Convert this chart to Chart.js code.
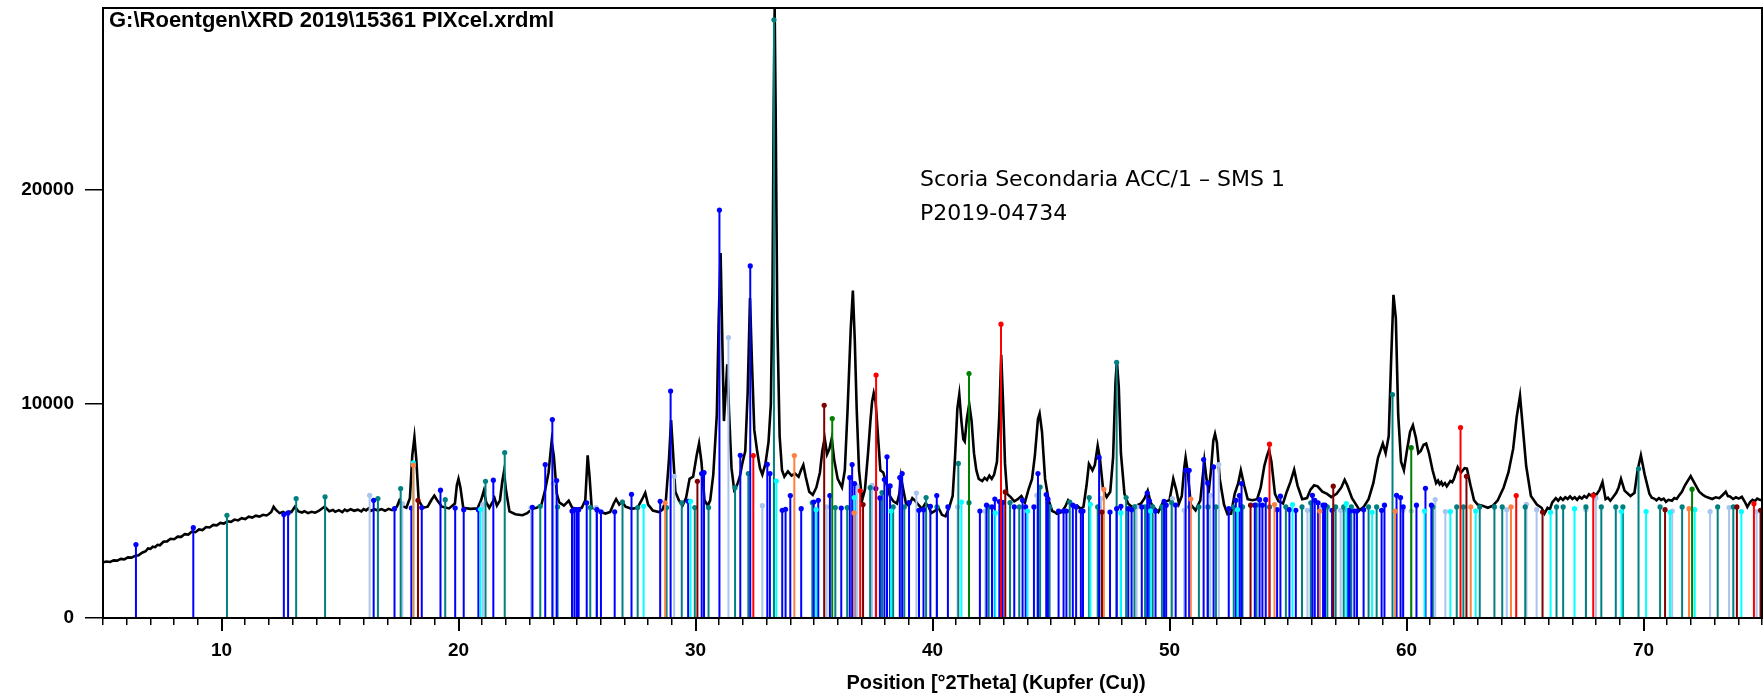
<!DOCTYPE html>
<html>
<head>
<meta charset="utf-8">
<title>XRD 15361</title>
<script src="https://cdn.jsdelivr.net/npm/chart.js@4.4.1/dist/chart.umd.min.js"></script>
<style>
  html, body { margin: 0; padding: 0; background: #fff; }
  #wrap { position: relative; width: 1764px; height: 699px; overflow: hidden; }
  #scanName { position: absolute; left: 109px; top: 7px; line-height: 24px; font: bold 22px "Liberation Sans", Arial, sans-serif; color: #000; white-space: nowrap; }
  .note { position: absolute; left: 920px; line-height: 24px; font: 22px "DejaVu Sans", Verdana, sans-serif; color: #000; white-space: nowrap; }
  #xTitle { position: absolute; left: 996px; top: 671px; transform: translateX(-50%); line-height: 24px; font: bold 20px "Liberation Sans", Arial, sans-serif; color: #000; white-space: nowrap; }
</style>
</head>
<body>
<div id="wrap">
  <canvas id="xrd" width="1764" height="699"></canvas>
  <div id="scanName">G:\Roentgen\XRD 2019\15361 PIXcel.xrdml</div>
  <div class="note" style="top:166px">Scoria Secondaria ACC/1 – SMS 1</div>
  <div class="note" style="top:200px">P2019-04734</div>
  <div id="xTitle">Position [°2Theta] (Kupfer (Cu))</div>
</div>
<script>
// measured scan, counts vs 2theta
const scanPos = [5.00,5.15,5.3,5.45,5.6,5.75,5.9,6.05,6.2,6.35,6.5,6.65,6.8,6.9,7.0,7.1,7.2,7.3,7.4,7.55,7.7,7.85,8.0,8.15,8.3,8.45,8.6,8.75,8.9,9.05,9.2,9.35,9.5,9.65,9.8,9.95,10.1,10.25,10.4,10.55,10.7,10.85,11.0,11.15,11.3,11.45,11.6,11.75,11.9,12.0,12.1,12.2,12.3,
  12.45,12.6,12.7,12.85,12.95,13.1,13.25,13.4,13.5,13.65,13.8,13.95,14.1,14.35,14.55,14.7,14.8,14.95,15.1,15.2,15.3,15.45,15.6,15.75,15.9,16.0,16.1,16.2,16.3,16.45,16.6,16.75,16.9,17.05,17.2,17.3,
  17.4,17.5,17.6,17.8,17.95,18.05,18.14,18.22,18.32,18.5,18.7,18.85,18.98,19.1,19.3,19.6,19.85,19.93,20.0,20.08,20.2,20.5,20.8,20.95,21.07,21.17,21.3,21.45,21.52,21.62,21.75,21.85,21.92,22.0,22.15,22.4,22.7,22.9,23.1,23.3,23.5,23.65,23.8,23.93,24.02,24.15,24.25,24.45,24.65,24.8,25.0,25.2,25.35,25.45,25.53,25.62,25.8,26.0,26.2,26.4,26.55,26.65,26.78,26.9,27.05,27.3,27.55,27.75,27.88,28.0,28.2,28.45,28.6,28.75,28.88,28.97,29.05,29.15,29.3,29.45,29.6,29.75,29.9,30.05,30.15,30.25,30.38,30.52,30.62,30.75,30.9,30.98,31.06,31.13,31.2,31.27,31.34,31.42,31.52,31.63,31.75,31.87,31.97,32.1,32.2,32.3,32.38,32.48,32.6,32.72,32.82,32.95,33.08,33.18,33.25,33.3,33.34,33.38,33.45,33.55,33.65,33.75,33.9,34.05,34.2,34.35,34.45,34.55,34.65,34.8,34.95,35.1,35.25,35.35,35.45,35.55,35.65,35.75,35.85,36.0,36.18,36.3,36.42,36.55,36.64,36.72,36.8,36.9,37.03,37.15,37.28,37.38,37.45,37.52,37.6,37.7,37.8,37.92,38.05,38.2,38.35,38.5,38.6,38.67,38.75,38.88,39.0,39.15,39.25,39.4,39.56,39.7,39.82,39.95,40.1,40.25,40.4,40.55,40.7,40.85,40.95,41.05,41.13,41.22,41.3,41.36,41.45,41.55,41.65,41.75,41.85,41.95,42.1,42.2,42.3,42.4,42.5,42.6,42.72,42.82,42.9,42.98,43.06,43.15,43.3,43.45,43.6,43.75,43.9,44.05,44.2,44.32,44.45,44.52,44.62,44.75,
  44.9,45.05,45.15,45.25,45.35,45.45,45.6,45.72,45.85,46.0,46.1,46.2,46.28,46.37,
  46.5,46.6,46.75,46.85,46.97,47.07,47.2,47.35,47.5,47.62,47.72,47.78,47.86,47.95,48.1,48.25,48.4,48.6,48.8,48.95,49.08,49.2,49.35,49.53,49.7,49.85,50.0,50.16,50.28,50.4,50.52,50.62,50.68,50.76,50.9,51.1,51.3,51.47,51.56,51.66,51.75,51.85,51.92,52.0,52.12,52.3,52.45,52.6,52.75,52.9,53.01,53.15,53.3,53.5,53.7,53.85,54.0,54.12,54.2,54.3,54.45,54.6,54.79,54.95,55.1,55.26,55.4,55.6,55.8,55.95,56.1,56.25,56.45,56.65,56.83,57.05,57.25,57.39,57.5,57.7,57.9,58.02,58.2,58.4,58.6,58.8,59.0,59.12,59.25,59.35,59.45,59.55,59.65,59.77,59.89,60.0,60.15,60.27,60.4,60.5,60.6,60.72,60.83,60.95,
  61.1,61.25,61.33,61.4,61.47,61.53,61.62,61.7,61.78,61.85,61.93,62.0,
  62.16,62.3,62.45,62.55,62.7,62.85,63.0,63.2,63.43,63.65,63.85,64.1,64.3,64.5,64.65,64.79,64.9,65.05,65.25,65.5,65.7,
  65.82,65.95,66.05,66.15,66.3,66.4,66.5,66.6,66.7,66.8,66.9,67.0,67.1,67.2,67.3,67.4,67.5,67.6,67.7,67.8,67.9,68.0,68.15,68.27,68.4,68.5,68.6,68.72,68.85,68.95,69.05,
  69.2,69.45,69.62,69.75,69.89,70.05,
  70.25,70.35,70.45,70.55,70.65,70.75,70.85,70.95,71.05,71.2,71.3,71.4,71.5,71.62,71.75,
  71.99,72.15,
  72.35,72.5,72.6,72.75,72.9,73.05,73.2,73.35,73.47,73.56,73.65,73.78,73.9,74.02,74.15,74.28,74.38,74.5,74.6,74.7,74.8,74.9,75.0];
const scanCounts = [2600,2640,2620,2690,2680,2760,2740,2830,2820,2900,2930,3050,3120,3250,3230,3330,3310,3420,3400,3560,3580,3700,3680,3800,3790,3920,3900,4040,4010,4140,4110,4250,4230,4350,4330,4440,4410,4520,4490,4600,4560,4660,4620,4730,4690,4780,4740,4820,4790,4860,4950,5200,5050,
  4900,4960,4890,4970,4950,5200,4980,4930,4990,4900,4960,4920,5000,5200,4990,5050,4960,5040,4950,5060,5000,5080,5010,5060,4980,5090,5030,5120,5000,5080,5020,5090,5010,5100,5040,5110,
  5200,5480,5250,5150,5600,7600,8450,7400,5500,5150,5200,5500,5720,5500,5200,5120,5350,6200,6500,6100,5150,5100,5120,5500,5950,5400,5150,5450,5600,5250,5500,6400,6850,6000,4980,4850,4800,4900,5100,5150,5300,5950,6800,8250,7600,5800,5400,5250,5480,5150,5100,5150,5500,7600,6600,5150,5100,4950,4880,4950,5350,5550,5300,5450,5200,5100,5150,5550,5850,5300,5020,4950,5050,5500,7400,9250,7800,5900,5500,5250,5600,6500,6600,7600,8150,7300,5500,5250,5500,6700,9500,14000,17050,13000,9200,10500,11850,9500,7000,6000,6200,6600,7200,7800,10500,14950,12000,8800,7800,7000,6700,7200,8200,10000,15500,24000,28500,24000,14000,8500,6900,6600,6850,6650,6750,6600,6900,7150,6600,5900,5750,6100,6800,7800,8400,7650,7900,8400,7400,6500,6100,6900,9800,13500,15300,13000,9800,6900,5500,6000,7700,9200,10100,10500,10100,8500,6900,6800,6300,5700,5450,5350,5800,6600,6100,5350,5250,5600,5500,5300,5100,5350,5250,4900,5000,5150,4820,4750,5150,5700,7500,9800,10450,9200,8350,8250,9300,10000,9200,7700,6900,6500,6400,6550,6450,6650,6500,6700,7300,9500,12300,10000,7200,5800,5650,5450,5550,5700,5400,6000,6500,7600,9300,9550,8700,6500,
  5500,5000,4950,4870,4900,4950,5200,5500,5300,5200,5250,5150,5120,5200,
  6200,7200,6900,7150,8050,7400,6000,5650,5900,7500,11000,12000,10800,7700,5800,5350,5200,5250,5350,5600,5950,5400,5150,4950,5350,5450,5500,6500,6000,5350,5700,7000,7500,6900,5300,5030,5500,7350,6500,5950,6900,8300,8600,8200,6500,5300,4850,4880,5800,6300,6900,6200,5550,5500,5550,6100,7100,7600,7850,7300,5800,5450,5350,5900,6350,6930,6200,5550,5600,6000,6200,6150,5900,5800,5650,5800,6100,6450,6200,5600,5250,5030,5200,5550,6300,7500,8150,7700,8500,12000,15100,14000,9500,7300,6900,7700,8700,9000,8400,7700,7800,8100,8150,7700,
  6900,6300,6420,6250,6350,6200,6300,6150,6280,6400,6350,6500,
  7050,6800,7000,6980,6200,5500,5300,5250,5150,5250,5500,6100,6800,7900,9400,10380,9000,7100,5700,5300,5150,
  4880,5150,5080,5400,5600,5480,5620,5520,5640,5560,5680,5560,5640,5520,5660,5580,5700,5620,5780,5720,5820,5740,6000,6350,5550,5620,5480,5650,5850,6100,6500,
  5950,5700,5850,6900,7600,6700,
  5800,5620,5580,5500,5600,5520,5580,5430,5520,5480,5600,5560,5720,5900,6200,
  6630,6300,
  5900,5760,5680,5620,5560,5640,5600,5760,5900,5700,5680,5560,5640,5580,5660,5420,5190,5420,5520,5460,5580,5520,5500];

// reference patterns: stick positions (°2θ) and top of each stick (counts)
const bluePos = [6.39,8.81,12.63,12.81,16.42,17.30,18.01,18.45,19.24,19.86,20.22,20.84,21.47,23.12,23.66,23.96,24.14,24.79,24.89,24.99,25.07,25.41,25.84,26.01,26.59,27.30,28.51,28.95,29.69,30.26,30.36,31.01,31.89,32.31,33.03,33.14,33.66,33.80,34.00,34.46,34.99,35.18,35.67,36.15,36.51,36.61,36.71,37.61,37.78,37.97,38.08,38.21,38.62,38.72,39.01,39.43,39.62,39.91,40.18,40.65,42.00,42.28,42.51,42.63,42.82,42.96,43.45,43.80,43.93,44.28,44.45,44.80,44.87,45.32,45.53,45.65,45.92,46.06,46.26,46.35,47.03,47.49,47.77,47.95,48.26,48.40,48.83,49.06,49.15,49.41,49.77,49.86,50.26,50.68,50.83,51.44,51.61,51.86,52.50,52.80,52.95,53.04,53.60,53.80,53.92,54.06,54.54,54.68,55.06,55.33,56.03,56.13,56.27,56.48,56.56,56.86,57.52,57.60,57.80,57.91,58.19,58.95,59.07,59.58,59.75,59.86,60.42,60.80,61.05];
const blueTop = [3430,4220,4830,4910,5500,5110,5140,5160,5970,5140,5060,5060,6440,5170,7170,9270,6420,5000,5060,5060,5060,5380,5060,4960,4960,5780,5450,10600,5450,6750,6790,19060,7600,16450,7180,6750,5030,5080,5720,5110,5420,5500,5720,5140,6560,7170,6280,6050,5610,6470,7530,6170,6560,6750,5390,5030,5060,5220,5720,5190,5000,5270,5190,5560,5440,5400,5190,5500,5190,5190,6750,5770,5550,5000,5000,5000,5270,5190,5000,5000,7500,4950,5110,5220,5110,5060,5190,5840,5470,5000,5450,5270,5280,6900,6900,7400,6310,7060,5110,5500,5720,6280,5270,5530,5270,5530,5060,5690,5060,5030,5730,5500,5380,5270,5270,5030,5030,5000,5000,5000,5060,5030,5270,5730,5630,5190,5270,6060,5270];

const tealPos = [10.23,13.15,14.37,16.60,17.56,19.44,21.14,21.95,23.45,24.18,25.56,26.92,27.56,28.78,29.42,29.97,30.55,31.67,32.23,33.31,34.93,35.90,36.40,37.37,37.87,38.34,38.81,39.73,40.19,41.09,41.54,42.37,43.27,43.66,44.54,44.94,45.79,46.61,46.97,47.77,48.17,48.52,48.97,49.29,49.68,50.09,50.86,51.24,51.62,51.96,52.71,53.08,53.67,54.22,54.91,55.59,55.96,56.66,57.01,57.35,57.67,58.40,58.74,59.41,61.11,62.12,62.40,63.09,63.71,64.04,65.01,66.33,66.61,67.57,68.22,68.83,69.13,69.79,70.70,71.63,73.13,73.79];
const tealTop = [4800,5580,5660,5580,6050,5530,6390,7730,5220,5190,5160,5420,5160,5160,5380,5160,5160,6090,6750,27950,5390,5160,5160,6090,5860,5190,5190,5630,5190,7220,5390,5190,5390,5190,6120,5190,5420,5630,5190,11950,5630,5190,5190,5190,5190,5380,5190,5190,5190,5190,5190,5190,5270,5190,5190,5190,5380,5190,5190,5190,5190,5190,5190,10440,5190,5190,5190,5190,5190,5190,5190,5190,5190,5190,5190,5190,5190,6970,5190,5190,5190,5190];

const paleBluePos = [16.25,17.63,21.03,23.06,24.00,25.80,29.10,31.39,32.82,35.53,36.81,37.45,39.32,41.06,42.23,44.40,47.11,48.61,50.12,50.62,51.72,52.08,55.82,56.34,57.22,59.85,60.20,61.21,61.64,64.23,65.06,65.49,67.57,67.99,71.21,72.81,73.61,74.77];
const paleBlueTop = [5730,5350,5310,5160,6280,5160,6620,13100,5250,5190,6160,6200,5840,5190,4990,5730,5580,5190,5580,5030,5730,7170,5030,5110,5030,5030,5000,5530,4970,5060,5310,5060,5060,5610,5000,4970,5160,4970];

const cyanPos = [18.09,20.93,27.81,29.79,33.41,35.09,36.70,38.25,41.22,42.65,44.01,46.66,47.95,49.20,52.87,55.19,57.46,58.55,60.76,61.85,62.92,66.08,67.09,69.07,70.11,71.12,72.16,74.13];
const cyanTop = [7250,5080,5220,5450,6400,5060,5630,5000,5420,4910,5000,5310,4910,5000,5060,5300,5340,4940,5000,4970,5000,4940,5110,4970,4970,4940,5060,4970];

const redPos = [32.44,36.95,37.62,42.89,54.22,62.28,64.63,67.88,74.66];
const redTop = [7590,5940,11350,13730,8120,8900,5720,5720,5340];

const maroonPos = [18.29,30.08,35.43,37.07,43.07,47.15,53.42,56.91,62.53,65.74,70.91,73.94,74.94];
const maroonTop = [5500,6390,9940,5300,5890,4950,5270,6160,6620,4950,5060,5190,5030];

const greenPos = [35.77,41.54,60.20,72.05];
const greenTop = [9320,11420,7960,6020];

const orangePos = [18.10,28.72,34.17,36.69,47.23,50.90,54.43,56.34,59.52,62.71,64.41,71.92];
const orangeTop = [7140,5380,7590,4910,6010,5560,5300,5000,4990,5190,5190,5110];

const yTicks = [0, 10000, 20000];
const majorX = [10, 20, 30, 40, 50, 60, 70];

// one stick = segment from 0 up to its top, then a gap
function sticks(pos, top) {
  const out = [];
  pos.forEach((p, i) => {
    if (top[i] === undefined) return;
    out.push({x: p, y: 0}, {x: p, y: top[i]}, {x: p, y: null});
  });
  return out;
}

function stickSet(label, pos, top, color, order) {
  return {
    label, order, data: sticks(pos, top),
    borderColor: color, backgroundColor: color, borderWidth: 2,
    spanGaps: false, tension: 0,
    pointRadius: c => (c.raw && c.raw.y > 0 ? 2.6 : 0),
    pointBorderWidth: 0, pointBackgroundColor: color
  };
}

const frame = {
  id: 'frame',
  afterDraw(chart) {
    const {ctx, chartArea: a, scales: {x}} = chart;
    ctx.save();
    ctx.strokeStyle = '#000';
    ctx.lineWidth = 2;
    ctx.strokeRect(a.left, a.top, a.right - a.left, a.bottom - a.top);
    ctx.beginPath();
    majorX.forEach(v => {
      const px = Math.round(x.getPixelForValue(v));
      ctx.moveTo(px, a.bottom);
      ctx.lineTo(px, a.bottom + 13);
    });
    ctx.stroke();
    ctx.restore();
  }
};

const tickFont = {family: '"Liberation Sans", Arial, sans-serif', size: 19, weight: 'bold'};

new Chart(document.getElementById('xrd'), {
  type: 'line',
  data: {
    datasets: [
      stickSet('Phase 1', bluePos, blueTop, '#0000ff', 6),
      stickSet('Phase 2', tealPos, tealTop, '#008080', 7),
      stickSet('Phase 3', paleBluePos, paleBlueTop, '#a8c4ef', 8),
      stickSet('Phase 4', cyanPos, cyanTop, '#00ffff', 5),
      stickSet('Phase 5', redPos, redTop, '#ff0000', 2),
      stickSet('Phase 6', maroonPos, maroonTop, '#800000', 3),
      stickSet('Phase 7', greenPos, greenTop, '#008000', 1),
      stickSet('Phase 8', orangePos, orangeTop, '#ff8040', 4),
      {
        label: '15361', order: 9,
        data: scanPos.map((p, i) => ({x: p, y: scanCounts[i]})),
        borderColor: '#000', borderWidth: 2.6, pointRadius: 0, tension: 0
      }
    ]
  },
  options: {
    responsive: false,
    animation: false,
    layout: {padding: {top: 8, right: 2, left: 0, bottom: 0}},
    plugins: {legend: {display: false}, tooltip: {enabled: false}},
    scales: {
      x: {
        type: 'linear', min: 5, max: 75,
        afterFit: s => { s.height = 81; s.paddingLeft = 0; s.paddingRight = 0; },
        border: {display: true, color: '#000', width: 2},
        grid: {drawOnChartArea: false, drawTicks: true, tickLength: 7, color: '#000', lineWidth: 1.5},
        ticks: {
          stepSize: 1, autoSkip: false, maxRotation: 0, color: '#000', font: tickFont, padding: 14,
          callback: v => (majorX.includes(v) ? String(v) : '')
        }
      },
      y: {
        type: 'linear', min: 0, max: 28500,
        afterFit: s => { s.width = 103; s.paddingTop = 0; s.paddingBottom = 0; },
        afterBuildTicks: s => { s.ticks = yTicks.map(v => ({value: v})); },
        border: {display: true, color: '#000', width: 2},
        grid: {drawOnChartArea: false, drawTicks: true, tickLength: 18, color: '#000', lineWidth: 1.5},
        ticks: {color: '#000', font: tickFont, padding: 11, callback: v => String(v)}
      }
    }
  },
  plugins: [frame]
});
</script>
</body>
</html>
